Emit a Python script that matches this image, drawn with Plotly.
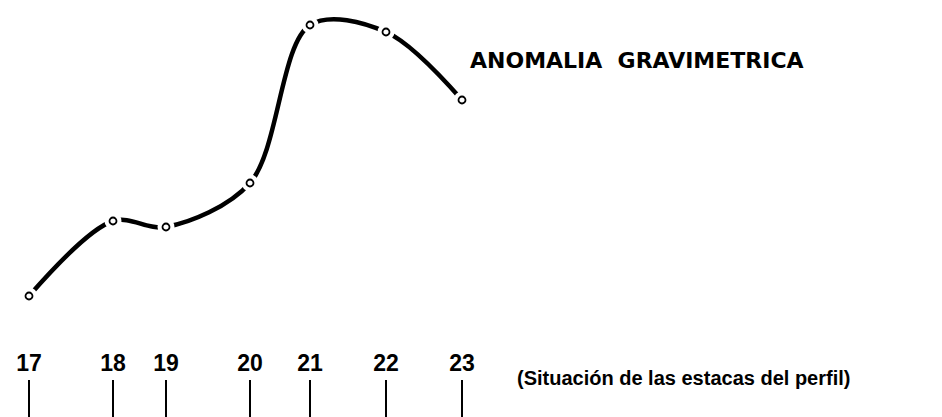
import plotly.graph_objects as go

# Stations (stakes) along the profile and their relative positions
stations = ["17", "18", "19", "20", "21", "22", "23"]
distance = [0, 84, 137, 221, 281, 357, 433]
# Gravimetric anomaly (relative units)
anomaly = [0.5, 8.0, 7.4, 11.8, 27.6, 26.9, 20.1]

title_text = "ANOMALIA  GRAVIMETRICA"
axis_text = "(Situación de las estacas del perfil)"

FONT = "Liberation Sans, Arial, sans-serif"
WIDE = "DejaVu Sans, Liberation Sans, sans-serif"
NARROW = "Liberation Sans Narrow, Liberation Sans, Arial, sans-serif"

fig = go.Figure()

# smooth anomaly curve
fig.add_trace(go.Scatter(
    x=distance, y=anomaly, mode="lines",
    line=dict(color="black", width=4.5, shape="spline", smoothing=0.95),
    hoverinfo="skip", showlegend=False))
# white gaps around observation points
fig.add_trace(go.Scatter(
    x=distance, y=anomaly, mode="markers",
    marker=dict(color="white", size=17, line=dict(width=0)),
    hoverinfo="skip", showlegend=False))
# small open circles
fig.add_trace(go.Scatter(
    x=distance, y=anomaly, mode="markers",
    marker=dict(color="white", size=7, symbol="circle",
                line=dict(color="black", width=1.8)),
    showlegend=False))

# stake tick marks
tx, ty = [], []
for d in distance:
    tx += [d, d, None]
    ty += [-7.9, -13.5, None]
fig.add_trace(go.Scatter(
    x=tx, y=ty, mode="lines", line=dict(color="black", width=2),
    hoverinfo="skip", showlegend=False))

# stake labels
fig.add_trace(go.Scatter(
    x=distance, y=[-6.4] * len(distance), mode="text", text=stations,
    textposition="middle center",
    textfont=dict(family=NARROW, size=23, color="black", weight="bold"),
    hoverinfo="skip", showlegend=False))

fig.add_annotation(
    x=439, y=24.1, xref="x", yref="y", text=title_text, showarrow=False,
    xanchor="left", yanchor="middle",
    font=dict(family=WIDE, size=22, color="black", weight="bold"))
fig.add_annotation(
    x=486, y=-7.7, xref="x", yref="y", text=axis_text, showarrow=False,
    xanchor="left", yanchor="middle",
    font=dict(family=FONT, size=20, color="black", weight="bold"))

# page body adds an 8px offset; shift the ranges to compensate
fig.update_layout(
    width=942, height=417,
    margin=dict(l=0, r=0, t=0, b=0),
    paper_bgcolor="white", plot_bgcolor="white",
    xaxis=dict(range=[-21, 921], visible=False, fixedrange=True),
    yaxis=dict(range=[-12.4, 29.3], visible=False, fixedrange=True),
)

fig.write_html("out.html")
